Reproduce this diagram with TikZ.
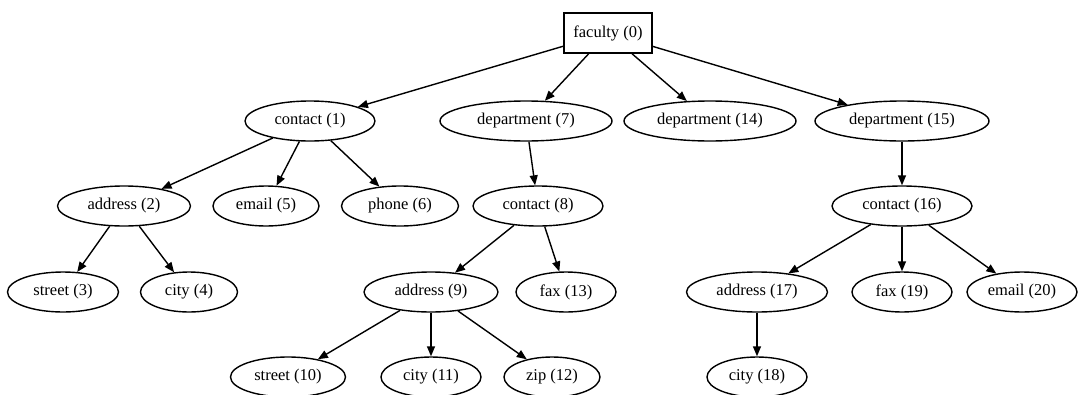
\documentclass[tikz,border=0pt]{standalone}
\usepackage{fontspec}
\setmainfont{Liberation Serif}
\usetikzlibrary{arrows.meta,shapes.geometric}
\begin{document}
\begin{tikzpicture}[x=1pt,y=-1pt,
  el/.style={draw,ellipse,line width=1.4pt,minimum height=40pt,inner sep=0pt,font=\fontsize{16.5}{18}\selectfont},
  bx/.style={draw,rectangle,line width=1.4pt,minimum height=40pt,minimum width=88pt,inner sep=0pt,font=\fontsize{16.5}{18}\selectfont},
  arr/.style={line width=1.4pt,-{Triangle[length=10pt,width=8pt]}}]
\useasboundingbox (0,0) rectangle (1085,394);
\node[bx] (n0) at (608,33) {faculty (0)};
\node[el,minimum width=130pt] (n1) at (310,121) {contact (1)};
\node[el,minimum width=172pt] (n7) at (526,121) {department (7)};
\node[el,minimum width=172pt] (n14) at (710,121) {department (14)};
\node[el,minimum width=174pt] (n15) at (902,121) {department (15)};
\node[el,minimum width=133pt] (n2) at (124,206) {address (2)};
\node[el,minimum width=106pt] (n5) at (266,206) {email (5)};
\node[el,minimum width=117pt] (n6) at (400,206) {phone (6)};
\node[el,minimum width=130pt] (n8) at (538,206) {contact (8)};
\node[el,minimum width=140pt] (n16) at (902,206) {contact (16)};
\node[el,minimum width=111pt] (n3) at (63,292) {street (3)};
\node[el,minimum width=97pt] (n4) at (189,292) {city (4)};
\node[el,minimum width=134pt] (n9) at (431,292) {address (9)};
\node[el,minimum width=100pt] (n13) at (566,292) {fax (13)};
\node[el,minimum width=141pt] (n17) at (757,292) {address (17)};
\node[el,minimum width=100pt] (n19) at (902,292) {fax (19)};
\node[el,minimum width=110pt] (n20) at (1022,292) {email (20)};
\node[el,minimum width=115pt] (n10) at (288,377) {street (10)};
\node[el,minimum width=100pt] (n11) at (431,377) {city (11)};
\node[el,minimum width=96pt] (n12) at (552,377) {zip (12)};
\node[el,minimum width=100pt] (n18) at (757,377) {city (18)};
\draw[arr] (n0) -- (n1);
\draw[arr] (n0) -- (n7);
\draw[arr] (n0) -- (n14);
\draw[arr] (n0) -- (n15);
\draw[arr] (n1) -- (n2);
\draw[arr] (n1) -- (n5);
\draw[arr] (n1) -- (n6);
\draw[arr] (n2) -- (n3);
\draw[arr] (n2) -- (n4);
\draw[arr] (n7) -- (n8);
\draw[arr] (n8) -- (n9);
\draw[arr] (n8) -- (n13);
\draw[arr] (n9) -- (n10);
\draw[arr] (n9) -- (n11);
\draw[arr] (n9) -- (n12);
\draw[arr] (n15) -- (n16);
\draw[arr] (n16) -- (n17);
\draw[arr] (n16) -- (n19);
\draw[arr] (n16) -- (n20);
\draw[arr] (n17) -- (n18);
\end{tikzpicture}
\end{document}
